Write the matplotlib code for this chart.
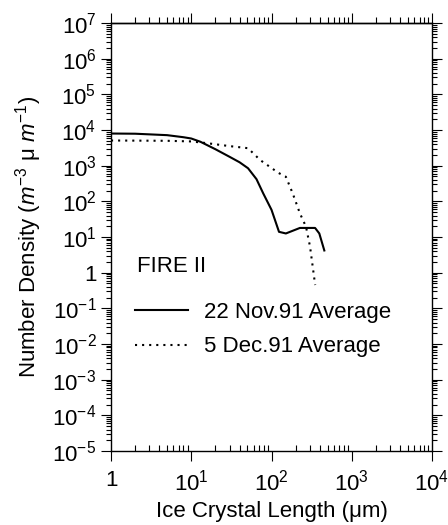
import matplotlib
matplotlib.use('Agg')
import matplotlib.pyplot as plt
from matplotlib.ticker import LogLocator, FuncFormatter, NullFormatter
import numpy as np

plt.rcParams.update({
  'font.family': 'Liberation Sans',
  'mathtext.fontset': 'custom',
  'mathtext.rm': 'Liberation Sans',
  'mathtext.it': 'Liberation Sans:italic',
  'axes.linewidth': 1.0,
})

# 22 Nov.91 average size distribution (solid)
nov_length = [1, 2, 5, 8, 10, 13, 20, 30, 40, 51, 65, 79, 100, 124, 151, 226, 349, 394, 455]
nov_density = [8000, 7900, 7200, 6300, 5800, 4700, 2900, 1780, 1250, 850, 420, 166, 58, 14, 12.6, 18, 18, 12.6, 4.2]

# 5 Dec.91 average size distribution (dotted)
dec_length = [1, 5, 10, 15.6, 30, 51, 72, 122, 151, 184, 226, 269, 302, 350]
dec_density = [5100, 5000, 4800, 4300, 3550, 3100, 1450, 630, 490, 166, 46, 19.5, 5.4, 0.45]

nov_label = '22 Nov.91 Average'
dec_label = '5 Dec.91 Average'
campaign = 'FIRE II'


def pow_fmt(v, pos):
  n = int(round(np.log10(v)))
  if n == 0:
    return '1'
  return r'$10^{%d}$' % n


fig = plt.figure(figsize=(4.48, 5.25), dpi=100)
ax = fig.add_axes([0.2478, 0.141, 0.7165, 0.815])

ax.plot(nov_length, nov_density, color='black', lw=1.5, label=nov_label)
ax.plot(dec_length, dec_density, color='black', lw=1.5, dashes=(1, 2.4), label=dec_label)

ax.set_xscale('log')
ax.set_yscale('log')
ax.set_xlim(1, 1e4)
ax.set_ylim(1e-5, 1e7)

fs = 16
for axis in (ax.xaxis, ax.yaxis):
  axis.set_major_locator(LogLocator(base=10, numticks=100))
  axis.set_minor_locator(LogLocator(base=10, subs=np.arange(2, 10), numticks=100))
  axis.set_major_formatter(FuncFormatter(pow_fmt))
  axis.set_minor_formatter(NullFormatter())

ax.tick_params(axis='y', which='both', direction='out', left=True, right=True, labelsize=fs)
ax.tick_params(axis='y', which='major', length=7.5, width=0.8, pad=3)
ax.tick_params(axis='y', which='minor', length=3.5, width=0.8)
ax.tick_params(axis='x', which='major', direction='out', top=False, length=7.5, width=0.8,
               labelsize=fs, pad=6)
ax.tick_params(axis='x', which='minor', direction='in', top=False, length=4, width=0.8)

top = ax.secondary_xaxis('top')
top.xaxis.set_major_locator(LogLocator(base=10, numticks=100))
top.xaxis.set_minor_locator(LogLocator(base=10, subs=np.arange(2, 10), numticks=100))
top.xaxis.set_major_formatter(NullFormatter())
top.xaxis.set_minor_formatter(NullFormatter())
top.tick_params(which='major', direction='out', length=7.5, width=0.8)
top.tick_params(which='minor', direction='out', length=4, width=0.8)

ax.set_xlabel('Ice Crystal Length (μm)', fontsize=fs, labelpad=4)
ax.set_ylabel('Number Density ($m^{-3}$ μ $m^{-1}$)', fontsize=fs, labelpad=6)

ax.text(0.081, 0.432, campaign, transform=ax.transAxes, fontsize=fs, va='center', ha='left')
ax.legend(loc='upper left', bbox_to_anchor=(0.075, 0.348), frameon=False, fontsize=fs,
          handlelength=2.4, handletextpad=0.68, labelspacing=0.6, borderaxespad=0,
          borderpad=0)

fig.savefig('out.png', dpi=100)
